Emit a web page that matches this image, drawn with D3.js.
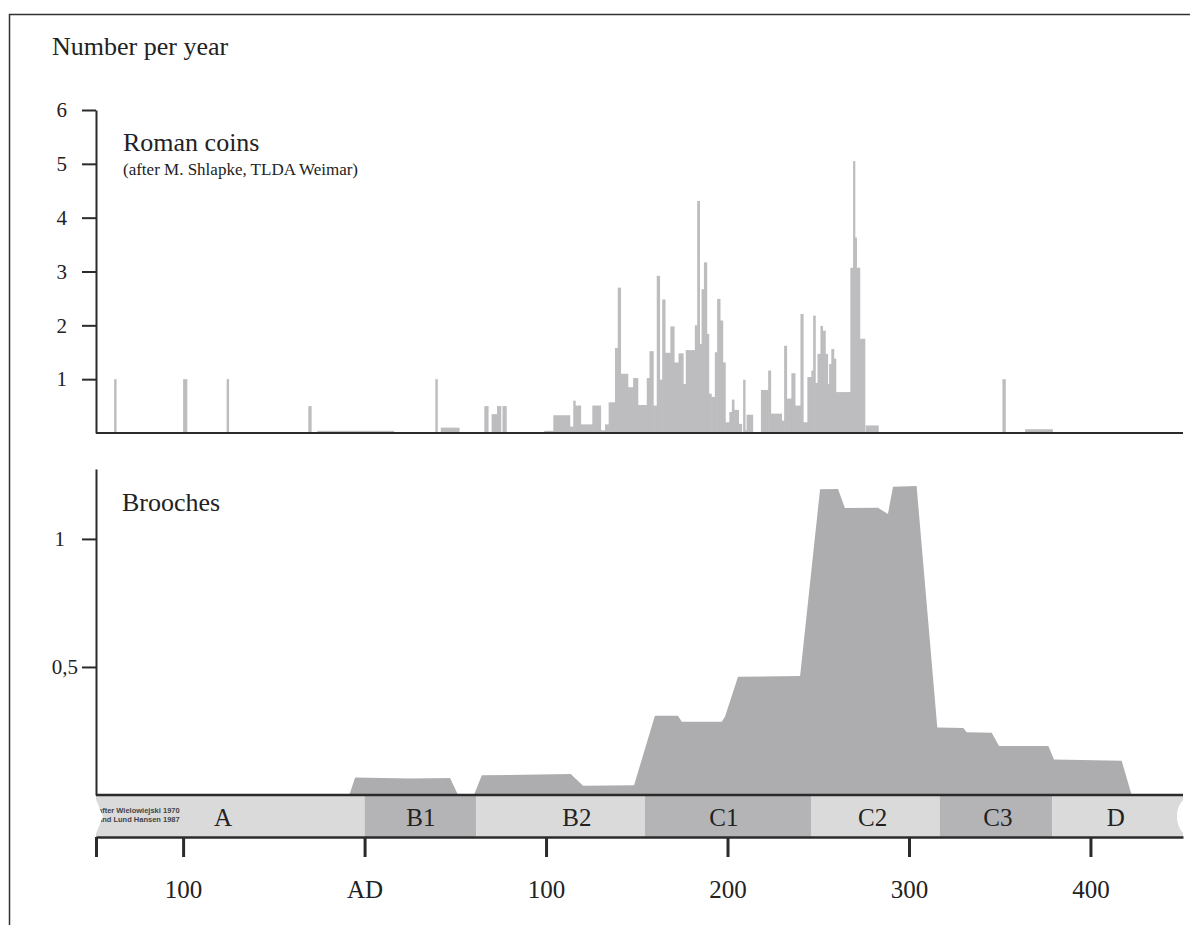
<!DOCTYPE html>
<html>
<head>
  <meta charset="utf-8" />
  <title>Roman coins and brooches per year</title>
  <script type="text/javascript" src="https://cdn.jsdelivr.net/npm/d3@7"></script>
  <style type="text/css">
  body {
    margin: 0;
    background: #fff;
  }
  text {
    font-family: "Liberation Serif", "Times New Roman", serif;
    fill: #222;
  }
  .axis path, .axis line, .rule {
    stroke: #2b2b2b;
    fill: none;
  }
  .coin { fill: #bdbdbf; }
  .brooch { fill: #adadb0; }
  </style>
</head>
<body>
  <script type="text/javascript">
    // Roman coins: one bar per issue period (years), number per year
    var coinStart = [
      -138, -100, -76, -31, -26, 39, 42, 66, 70, 73,
      76, 99, 104, 113, 115, 116, 119, 125.5, 130, 132.5,
      134.5, 138, 139.5, 141, 145, 148, 150.5, 155.5, 157, 159,
      161, 162.5, 164, 165.5, 168.5, 170.5, 173, 175.5, 177, 182,
      183.3, 184.5, 185.7, 187, 188.5, 189.6, 191, 193, 194.3, 195.8,
      197.3, 198.7, 201, 202.4, 203.5, 206, 208.6, 209.6, 210.5, 218.4,
      222.4, 223.7, 229.7, 231.2, 232.5, 235.2, 237.1, 240.2, 241.6, 244,
      246.2, 247.2, 248.3, 249.6, 251.2, 252.3, 253.8, 255.1, 256, 257.2,
      258.5, 259.6, 267.7, 269.2, 270.1, 271, 272.8, 276.1, 351.5, 364
    ]
    var coinEnd = [
      -137, -98, -75, -29.5, 16, 40, 52, 68, 73, 75,
      78, 104, 113, 115, 116, 119, 125.5, 130, 132.5, 134.5,
      138, 139.5, 141, 145, 148, 150.5, 155.5, 157, 159, 161,
      162.5, 164, 165.5, 168.5, 170.5, 173, 175.5, 177, 182, 183.3,
      184.5, 185.7, 187, 188.5, 189.6, 191, 193, 194.3, 195.8, 197.3,
      198.7, 201, 202.4, 203.5, 206, 207.7, 209.6, 210.5, 213.8, 222.4,
      223.7, 229.7, 231.2, 232.5, 235.2, 237.1, 240.2, 241.6, 244, 246.2,
      247.2, 248.3, 249.6, 251.2, 252.3, 253.8, 255.1, 256, 257.2, 258.5,
      259.6, 267.7, 269.2, 270.1, 271, 272.8, 275.6, 283, 353, 379
    ]
    var coinValue = [
      1, 1, 1, 0.5, 0.04, 1, 0.1, 0.5, 0.35, 0.5,
      0.5, 0.04, 0.33, 0.12, 0.6, 0.51, 0.16, 0.51, 0.05, 0.16,
      0.57, 1.58, 2.7, 1.1, 0.85, 1.02, 0.52, 1.02, 1.52, 0.51,
      2.92, 0.99, 2.48, 1.49, 1.98, 1.31, 1.48, 0.91, 1.54, 2.0,
      4.31, 1.65, 2.67, 3.17, 1.84, 0.73, 0.67, 1.5, 2.49, 2.09,
      1.31, 0.2, 0.39, 0.62, 0.43, 0.17, 0.99, 0.05, 0.34, 0.8,
      1.16, 0.36, 0.23, 1.62, 0.64, 1.11, 0.51, 2.21, 0.2, 1.04,
      1.16, 2.18, 0.93, 1.47, 1.99, 1.9, 1.47, 0.91, 1.28, 1.56,
      1.38, 0.76, 3.07, 5.05, 3.63, 3.07, 1.75, 0.14, 1, 0.07
    ]

    // Brooches: outline of the curve (year, number per year)
    var broochYears = [-8.4, -5.2, 25, 47.1, 51.5, 60.3, 64.6, 113.6, 120.4, 148.5,
      160, 172.7, 174.8, 196.8, 198.6, 205.8, 240, 251, 260.9, 264.7,
      282.9, 288.4, 291.2, 304.2, 315.6, 329.9, 331.8, 345.6, 349.6, 376.8,
      379.9, 417.2, 422.7]
    var broochValues = [0, 0.068, 0.064, 0.066, 0, 0, 0.077, 0.082, 0.036, 0.038,
      0.31, 0.31, 0.286, 0.286, 0.306, 0.462, 0.465, 1.194, 1.195, 1.121,
      1.122, 1.098, 1.204, 1.207, 0.264, 0.262, 0.245, 0.243, 0.191, 0.191,
      0.139, 0.134, 0]

    // chronological phases
    var periodNames = ['A', 'B1', 'B2', 'C1', 'C2', 'C3', 'D']
    var periodStart = [-148, 0, 61.5, 154.5, 246, 317, 379]
    var periodEnd = [0, 61.5, 154.5, 246, 317, 379, 451]
    var periodLabelAt = [-78, 31, 117, 198, 280, 349, 414]

    var yearTicks = [-148, -100, 0, 100, 200, 300, 400]
    var yearLabels = ['', '100', 'AD', '100', '200', '300', '400']
    var coinTicks = [1, 2, 3, 4, 5, 6]
    var broochTicks = [0.5, 1]
    var broochTickLabels = ['0,5', '1']

    var w = 1190,
        h = 925,
        x = d3.scaleLinear().domain([-148, 451]).range([96, 1183]),
        yCoin = d3.scaleLinear().domain([0, 6]).range([433, 110]),
        yBrooch = d3.scaleLinear().domain([0, 1]).range([795, 539])

    var svg = d3.select(document.body)
      .append('svg')
      .attr('width', w)
      .attr('height', h)

    // page frame
    svg.append('path')
      .attr('d', 'M9.5,925V14.5H1190')
      .attr('stroke', '#333')
      .attr('stroke-width', 1.5)
      .attr('fill', 'none')

    svg.append('text')
      .attr('x', 52).attr('y', 55)
      .style('font-size', '26px')
      .text('Number per year')

    // ---- Roman coins ----
    var coins = d3.range(coinValue.length)
    svg.append('g').selectAll('rect')
      .data(coins)
    .enter().append('rect')
      .attr('class', 'coin')
      .attr('x', function(i) { return x(coinStart[i]) })
      .attr('width', function(i) { return x(coinEnd[i]) - x(coinStart[i]) + 0.6 })
      .attr('y', function(i) { return yCoin(coinValue[i]) })
      .attr('height', function(i) { return yCoin(0) - yCoin(coinValue[i]) })

    svg.append('line')
      .attr('class', 'rule')
      .attr('x1', x.range()[0]).attr('x2', x.range()[1])
      .attr('y1', yCoin(0)).attr('y2', yCoin(0))
      .attr('stroke-width', 2)

    var coinAxis = svg.append('g')
      .attr('class', 'axis')
      .attr('transform', 'translate(96,0)')
      .call(d3.axisLeft(yCoin).tickValues(coinTicks).tickSize(14).tickSizeOuter(0).tickPadding(15)
        .tickFormat(d3.format('d')))
    coinAxis.selectAll('path, line').attr('stroke-width', 2)
    coinAxis.selectAll('text').style('font-size', '21px')

    svg.append('text')
      .attr('x', 123).attr('y', 151)
      .style('font-size', '26px')
      .text('Roman coins')
    svg.append('text')
      .attr('x', 123).attr('y', 175)
      .style('font-size', '17px')
      .text('(after M. Shlapke, TLDA Weimar)')

    // ---- Brooches ----
    var area = d3.area()
      .x(function(i) { return x(broochYears[i]) })
      .y0(yBrooch(0))
      .y1(function(i) { return yBrooch(broochValues[i]) })

    svg.append('path')
      .datum(d3.range(broochYears.length))
      .attr('class', 'brooch')
      .attr('d', area)

    var broochAxis = svg.append('g')
      .attr('class', 'axis')
      .attr('transform', 'translate(96,0)')
      .call(d3.axisLeft(yBrooch.copy().domain([0, 1.273]).range([795, 469]))
        .tickValues(broochTicks).tickSize(14).tickSizeOuter(0)
        .tickFormat(function(d) { return broochTickLabels[broochTicks.indexOf(d)] }))
    broochAxis.selectAll('path, line').attr('stroke-width', 2)
    broochAxis.selectAll('text')
      .style('font-size', '21px')
      .attr('x', function(d) { return d === 1 ? -31 : -18 })

    svg.append('text')
      .attr('x', 122).attr('y', 511)
      .style('font-size', '26px')
      .text('Brooches')

    // ---- phase bar ----
    var periods = d3.range(periodNames.length)
    svg.append('g').selectAll('rect')
      .data(periods)
    .enter().append('rect')
      .attr('x', function(i) { return x(periodStart[i]) })
      .attr('width', function(i) { return x(periodEnd[i]) - x(periodStart[i]) })
      .attr('y', 796)
      .attr('height', 41)
      .attr('fill', function(i) { return i % 2 ? '#b4b4b6' : '#dadadb' })

    svg.append('g').selectAll('text')
      .data(periods)
    .enter().append('text')
      .attr('x', function(i) { return x(periodLabelAt[i]) })
      .attr('y', 826)
      .attr('text-anchor', 'middle')
      .style('font-size', '25px')
      .text(function(i) { return periodNames[i] })

    svg.append('g')
      .selectAll('text')
      .data(['after Wielowiejski 1970', 'and Lund Hansen 1987'])
    .enter().append('text')
      .attr('x', 98)
      .attr('y', function(d, i) { return 813 + i * 9 })
      .style('font-family', '"Liberation Sans", Arial, sans-serif')
      .style('font-size', '7.5px')
      .style('font-weight', 'bold')
      .style('fill', '#444')
      .text(function(d) { return d })

    // torn ends of the phase strip
    svg.append('path')
      .attr('d', 'M95,797L103,816.5L95,836Z')
      .attr('fill', '#fff')
    svg.append('ellipse')
      .attr('cx', 1188).attr('cy', 816.5)
      .attr('rx', 11).attr('ry', 18)
      .attr('fill', '#fff')

    svg.append('line')
      .attr('class', 'rule')
      .attr('x1', x.range()[0]).attr('x2', x.range()[1])
      .attr('y1', yBrooch(0)).attr('y2', yBrooch(0))
      .attr('stroke-width', 2.5)

    // ---- time axis ----
    var timeAxis = svg.append('g')
      .attr('class', 'axis')
      .attr('transform', 'translate(0,837)')
      .call(d3.axisBottom(x).tickValues(yearTicks).tickSize(20).tickSizeOuter(0).tickPadding(23)
        .tickFormat(function(d) { return yearLabels[yearTicks.indexOf(d)] }))
    timeAxis.select('.domain').attr('stroke-width', 2.5)
    timeAxis.selectAll('line').attr('stroke-width', 3)
    timeAxis.selectAll('text').style('font-size', '25px')
  </script>
</body>
</html>
